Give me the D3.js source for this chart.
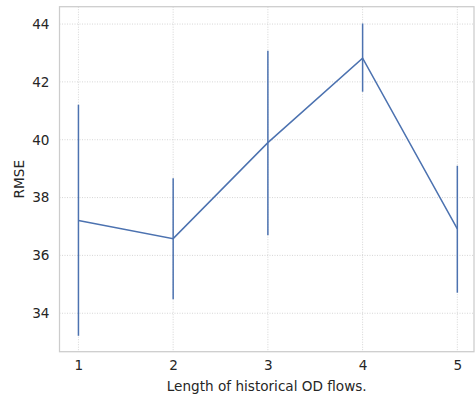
<!DOCTYPE html>
<html>
<head>
<meta charset="utf-8">
<script src="https://cdn.jsdelivr.net/npm/d3@7"></script>
<style>
  body { margin: 0; background: #fff; }
  text { font-family: "DejaVu Sans", sans-serif; fill: #262626; }
</style>
</head>
<body>
<script>
// history length on x, RMSE mean and error bar ends
var lengths = [1, 2, 3, 4, 5];
var rmse    = [37.21, 36.58, 39.90, 42.82, 36.92];
var errLow  = [33.22, 34.48, 36.70, 41.66, 34.71];
var errHigh = [41.21, 38.67, 43.08, 44.02, 39.10];
var yTicks  = [34, 36, 38, 40, 42, 44];

var width = 476,
    height = 398;
var pLeft = 59.5, pRight = 474, pTop = 6.7, pBottom = 351.7;
var fs = 13.6;

var svg = d3.select('body')
    .append('svg')
    .attr('width', width)
    .attr('height', height);

var x = d3.scaleLinear()
    .domain([0.8, 5.176])
    .range([pLeft, pRight]);

var y = d3.scaleLinear()
    .domain([32.67, 44.6])
    .range([pBottom, pTop]);

var grid = svg.append('g');

grid.selectAll('line.vx')
    .data(lengths).enter()
    .append('line')
    .attr('x1', d => x(d)).attr('x2', d => x(d))
    .attr('y1', pTop).attr('y2', pBottom)
    .attr('stroke', '#cccccc')
    .attr('stroke-width', 0.8)
    .attr('stroke-dasharray', '1,1.5');

grid.selectAll('line.hy')
    .data(yTicks).enter()
    .append('line')
    .attr('x1', pLeft).attr('x2', pRight)
    .attr('y1', d => y(d)).attr('y2', d => y(d))
    .attr('stroke', '#cccccc')
    .attr('stroke-width', 0.8)
    .attr('stroke-dasharray', '1,1.5');

// frame
svg.append('rect')
    .attr('x', pLeft).attr('y', pTop)
    .attr('width', pRight - pLeft).attr('height', pBottom - pTop)
    .attr('fill', 'none')
    .attr('stroke', '#cccccc')
    .attr('stroke-width', 1.25);

// tick labels via axes, no tick marks
var xAxis = svg.append('g')
    .attr('transform', 'translate(0,' + pBottom + ')')
    .call(d3.axisBottom(x).tickValues(lengths).tickSize(0).tickPadding(9).tickFormat(d3.format('d')));
var yAxis = svg.append('g')
    .attr('transform', 'translate(' + pLeft + ',0)')
    .call(d3.axisLeft(y).tickValues(yTicks).tickSize(0).tickPadding(10).tickFormat(d3.format('d')));

[xAxis, yAxis].forEach(function(a) {
  a.select('.domain').remove();
  a.selectAll('text').attr('font-size', fs).attr('fill', '#262626')
    .attr('font-family', '"DejaVu Sans", sans-serif');
});

var pts = lengths.map((d, i) => ({x: d, m: rmse[i], lo: errLow[i], hi: errHigh[i]}));

svg.append('path')
    .datum(pts)
    .attr('fill', 'none')
    .attr('stroke', '#4c72b0')
    .attr('stroke-width', 1.5)
    .attr('d', d3.line().x(d => x(d.x)).y(d => y(d.m)));

svg.selectAll('line.err')
    .data(pts).enter()
    .append('line')
    .attr('x1', d => x(d.x)).attr('x2', d => x(d.x))
    .attr('y1', d => y(d.lo)).attr('y2', d => y(d.hi))
    .attr('stroke', '#4c72b0')
    .attr('stroke-width', 1.5);

svg.append('text')
    .attr('x', (pLeft + pRight) / 2)
    .attr('y', 390.5)
    .attr('text-anchor', 'middle')
    .attr('font-size', fs)
    .text('Length of historical OD flows.');

svg.append('text')
    .attr('transform', 'translate(24,' + (pTop + pBottom) / 2 + ') rotate(-90)')
    .attr('text-anchor', 'middle')
    .attr('font-size', fs)
    .text('RMSE');
</script>
</body>
</html>
